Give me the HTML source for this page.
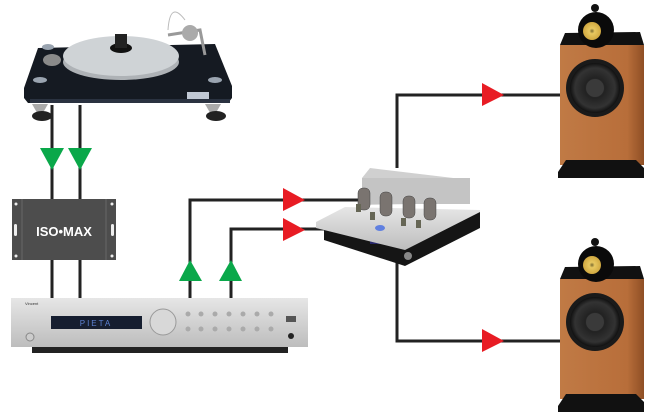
<!DOCTYPE html>
<html><head><style>
html,body{margin:0;padding:0;background:#fff;width:660px;height:420px;overflow:hidden}
</style></head><body>
<svg width="660" height="420" viewBox="0 0 660 420" xmlns="http://www.w3.org/2000/svg" font-family="Liberation Sans, sans-serif">
<defs>
<linearGradient id="sil" x1="0" y1="0" x2="0" y2="1"><stop offset="0" stop-color="#e6e6e6"/><stop offset="1" stop-color="#bdbdbd"/></linearGradient>
<linearGradient id="wood" x1="0" y1="0" x2="1" y2="0"><stop offset="0" stop-color="#c07a45"/><stop offset="0.8" stop-color="#b86e3a"/><stop offset="1" stop-color="#8f4f25"/></linearGradient>
<radialGradient id="woof" cx="0.5" cy="0.5" r="0.5"><stop offset="0" stop-color="#555"/><stop offset="0.4" stop-color="#222"/><stop offset="0.8" stop-color="#333"/><stop offset="1" stop-color="#111"/></radialGradient>
<radialGradient id="tw" cx="0.5" cy="0.5" r="0.5"><stop offset="0" stop-color="#7a6a30"/><stop offset="0.3" stop-color="#e8c860"/><stop offset="1" stop-color="#d0a840"/></radialGradient>
<g id="spk">
<rect x="560" y="45" width="84" height="120" fill="url(#wood)"/>
<polygon points="560,45 565,33 640,32 644,45" fill="#111"/>
<circle cx="596" cy="30" r="18" fill="#0a0a0a"/>
<circle cx="592" cy="31" r="9" fill="url(#tw)"/>
<circle cx="595" cy="8" r="4" fill="#111"/>
<circle cx="595" cy="88" r="29" fill="#1a1a1a"/>
<circle cx="595" cy="88" r="25" fill="url(#woof)"/>
<circle cx="595" cy="88" r="9" fill="#3a3a3a"/>
<rect x="566" y="160" width="70" height="10" fill="#eee"/>
<polygon points="558,172 566,160 636,160 644,168 644,178 558,178" fill="#111"/>
</g>
</defs>

<!-- connectors -->
<g stroke="#222" stroke-width="3" fill="none">
<line x1="52" y1="105" x2="52" y2="298"/>
<line x1="80" y1="105" x2="80" y2="298"/>
<polyline points="190,298 190,200 360,200"/>
<polyline points="231,298 231,229 340,229"/>
<polyline points="397,168 397,95 560,95"/>
<polyline points="397,260 397,341 560,341"/>
</g>
<g fill="#0aa84a">
<polygon points="40,148 64,148 52,170"/>
<polygon points="68,148 92,148 80,170"/>
<polygon points="179,281 202,281 190,260"/>
<polygon points="219,281 242,281 231,260"/>
</g>
<g fill="#e81c24">
<polygon points="283,188 283,211 305,200"/>
<polygon points="283,218 283,241 305,230"/>
<polygon points="482,83 482,106 504,95"/>
<polygon points="482,329 482,352 504,341"/>
</g>

<!-- turntable -->
<polygon points="24,88 38,48 215,44 232,86 232,98 228,103 28,103 24,98" fill="#151a22"/>
<rect x="30" y="99" width="200" height="4" fill="#2a3240"/>
<ellipse cx="40" cy="80" rx="7" ry="3" fill="#9aa4b0"/>
<ellipse cx="215" cy="80" rx="7" ry="3" fill="#9aa4b0"/>
<ellipse cx="48" cy="47" rx="6" ry="3" fill="#9aa4b0"/>
<ellipse cx="52" cy="60" rx="9" ry="6" fill="#8a8a8a"/>
<ellipse cx="121" cy="62" rx="58" ry="18" fill="#aeb2b6"/>
<ellipse cx="121" cy="56" rx="58" ry="20" fill="#cfd3d6"/>
<ellipse cx="121" cy="48" rx="11" ry="5" fill="#111"/>
<rect x="115" y="34" width="12" height="14" fill="#222"/>
<path d="M168 35 L200 30 L205 55" stroke="#999" stroke-width="3" fill="none"/>
<circle cx="190" cy="33" r="8" fill="#aaa"/>
<path d="M168 30 Q170 0 185 20" stroke="#bbb" stroke-width="1" fill="none"/>
<rect x="187" y="92" width="22" height="7" fill="#c0c8d4"/>
<path d="M32 104 L40 118 L48 104Z" fill="#aaa"/>
<ellipse cx="42" cy="116" rx="10" ry="5" fill="#222"/>
<path d="M205 104 L213 118 L221 104Z" fill="#aaa"/>
<ellipse cx="216" cy="116" rx="10" ry="5" fill="#222"/>

<!-- ISO-MAX -->
<rect x="12" y="199" width="104" height="61" fill="#4d4d4d"/>
<line x1="22" y1="199" x2="22" y2="260" stroke="#666"/>
<line x1="106" y1="199" x2="106" y2="260" stroke="#666"/>
<g fill="#eee"><circle cx="16" cy="204" r="1.5"/><circle cx="112" cy="204" r="1.5"/><circle cx="16" cy="256" r="1.5"/><circle cx="112" cy="256" r="1.5"/>
<rect x="14" y="224" width="3" height="12" rx="1.5"/><rect x="111" y="224" width="3" height="12" rx="1.5"/></g>
<text x="64" y="236" font-size="13" font-weight="bold" fill="#fff" text-anchor="middle">ISO•MAX</text>

<!-- preamp -->
<rect x="32" y="345" width="256" height="8" fill="#222"/>
<rect x="11" y="298" width="297" height="49" fill="url(#sil)"/>
<rect x="51" y="316" width="91" height="13" fill="#161e30"/>
<text x="96" y="326" font-size="8" fill="#5b80d0" text-anchor="middle" letter-spacing="2">PIETA</text>
<circle cx="163" cy="322" r="13" fill="#d8d8d8" stroke="#999"/>
<g fill="#aaa">
<circle cx="188" cy="314" r="2.5"/><circle cx="201" cy="314" r="2.5"/><circle cx="215" cy="314" r="2.5"/><circle cx="229" cy="314" r="2.5"/><circle cx="243" cy="314" r="2.5"/><circle cx="257" cy="314" r="2.5"/><circle cx="271" cy="314" r="2.5"/>
<circle cx="188" cy="329" r="2.5"/><circle cx="201" cy="329" r="2.5"/><circle cx="215" cy="329" r="2.5"/><circle cx="229" cy="329" r="2.5"/><circle cx="243" cy="329" r="2.5"/><circle cx="257" cy="329" r="2.5"/><circle cx="271" cy="329" r="2.5"/>
</g>
<rect x="286" y="316" width="10" height="6" fill="#555"/>
<circle cx="291" cy="336" r="3" fill="#222"/>
<circle cx="30" cy="337" r="4" fill="#ccc" stroke="#888"/>
<text x="25" y="305" font-size="4" fill="#333">Vincent</text>

<!-- tube amp -->
<polygon points="324,228 324,240 405,266 480,228 480,212" fill="#151515"/>
<rect x="370" y="240" width="40" height="4" fill="#3a3ac0" opacity="0.5"/>
<polygon points="316,222 345,207 480,210 480,212 405,250 316,228" fill="url(#sil)"/>
<polygon points="362,178 370,168 470,180 470,203 362,205" fill="#d0d0d0"/>
<rect x="362" y="178" width="108" height="26" fill="#c4c4c4"/>
<g fill="#7a7470" stroke="#444" stroke-width="0.5">
<rect x="358" y="188" width="12" height="22" rx="5"/>
<rect x="380" y="192" width="12" height="24" rx="5"/>
<rect x="403" y="196" width="12" height="22" rx="5"/>
<rect x="424" y="198" width="12" height="22" rx="5"/>
</g>
<g fill="#665"><rect x="356" y="204" width="5" height="8"/><rect x="370" y="212" width="5" height="8"/><rect x="401" y="218" width="5" height="8"/><rect x="416" y="220" width="5" height="8"/></g>
<ellipse cx="380" cy="228" rx="5" ry="3" fill="#6080e0"/>
<circle cx="408" cy="256" r="4" fill="#888"/>

<use href="#spk"/>
<use href="#spk" transform="translate(0,234)"/>
</svg>
</body></html>
